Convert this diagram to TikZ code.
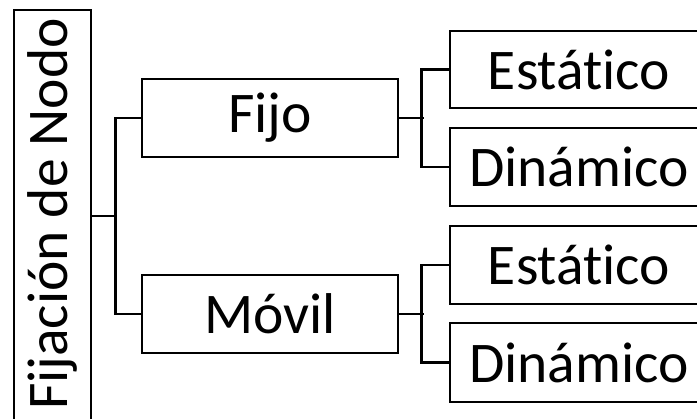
\documentclass[tikz,border=0pt]{standalone}
\usepackage{fontspec}
\setmainfont[RawFeature={-liga}]{Carlito}
\begin{document}
\begin{tikzpicture}[x=1pt,y=1pt,
  box/.style={draw, line width=2.8pt, inner sep=0pt, font=\fontsize{57.5}{60}\selectfont},
  link/.style={line width=2.8pt}]
\useasboundingbox (0,0) rectangle (697,419);
\clip (0,0) rectangle (697,419);
% root column with rotated title (runs past the lower edge)
\node[box, minimum width=77, minimum height=420] (root) at (52.5,199)
  {\rotatebox{90}{\hspace*{12pt}Fijación de Nodo}};
% second level
\node[box, minimum width=256, minimum height=78] (fijo) at (270,301) {Fijo};
\node[box, minimum width=256, minimum height=78] (movil) at (270,105) {Móvil};
% leaves
\node[box, minimum width=258, minimum height=77] (e1) at (579,349.5) {Estático};
\node[box, minimum width=258, minimum height=78] (d1) at (579,252) {Dinámico};
\node[box, minimum width=258, minimum height=78] (e2) at (579,154) {Estático};
\node[box, minimum width=258, minimum height=79] (d2) at (579,56.5) {Dinámico};
% brackets
\coordinate (rj) at ([yshift=4pt]root.east);
\draw[link] (rj) -- ++(25,0);
\draw[link] (fijo.west) -- ++(-25,0) |- (movil.west);
\draw[link] (fijo.east) -- ++(25,0);
\draw[link] (e1.west) -- ++(-27,0) |- (d1.west);
\draw[link] (movil.east) -- ++(25,0);
\draw[link] (e2.west) -- ++(-27,0) |- (d2.west);
\end{tikzpicture}
\end{document}
